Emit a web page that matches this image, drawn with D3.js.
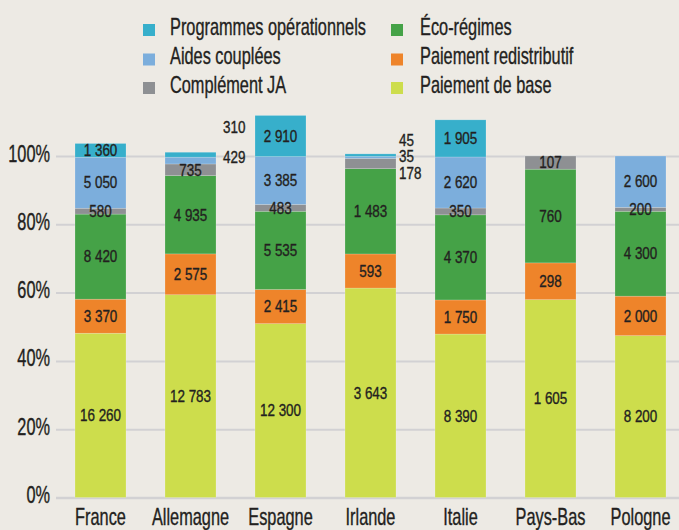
<!DOCTYPE html>
<html>
<head>
<meta charset="utf-8">
<script src="https://cdn.jsdelivr.net/npm/d3@7"></script>
<style>
  html, body { margin: 0; padding: 0; background: #edeae4; }
  svg { display: block; font-family: "Liberation Sans", Arial, sans-serif; }
  svg text { stroke: #231f20; stroke-width: 0.35px; }
</style>
</head>
<body>
<svg width="679" height="530"></svg>
<script>
// data
const countries = ['France','Allemagne','Espagne','Irlande','Italie','Pays-Bas','Pologne']
const seriesNames = ['Paiement de base','Paiement redistributif','Éco-régimes','Complément JA','Aides couplées','Programmes opérationnels']
const paiementBase = [16260, 12783, 12300, 3643, 8390, 1605, 8200]
const paiementRedistributif = [3370, 2575, 2415, 593, 1750, 298, 2000]
const ecoRegimes = [8420, 4935, 5535, 1483, 4370, 760, 4300]
const complementJA = [580, 735, 483, 178, 350, 107, 200]
const aidesCouplees = [5050, 429, 3385, 35, 2620, 0, 2600]
const programmesOp = [1360, 310, 2910, 45, 1905, 0, 0]
// value that stands for 100% in each country
const enveloppe = [33800, 21530, 24160, 5940, 17530, 2770, 17300]
const yTicks = [0, 20, 40, 60, 80, 100]

const colors = ['#cddd4c', '#ee842a', '#45a247', '#8e9093', '#7caedc', '#37afcb']
const seriesValues = [paiementBase, paiementRedistributif, ecoRegimes, complementJA, aidesCouplees, programmesOp]

// labels that sit right of the bar (country|series index -> nudge)
const outsideLabels = {
  'Allemagne|4': {dx: 7, dy: -3},
  'Allemagne|5': {dx: 7, dy: -27},
  'Irlande|3': {dx: 3, dy: 10},
  'Irlande|4': {dx: 3, dy: -1},
  'Irlande|5': {dx: 3, dy: -15}
}

const svg = d3.select('svg'),
    W = 679, H = 530,
    ink = '#231f20',
    sx = 0.71,   // squeeze for the big condensed text
    sv = 0.84    // squeeze for the value labels

const x = d3.scaleBand()
    .domain(countries)
    .range([55.5, 685.5])
    .paddingInner(0.4333)
    .paddingOuter(0.2167)
const y = d3.scaleLinear().domain([0, 100]).range([497.5, 156])

const fmt = v => d3.format(',')(v).replace(/,/g, ' ')

// grid + y labels
const yAxis = svg.append('g')
    .attr('transform', 'translate(56,0)')
    .call(d3.axisLeft(y).tickValues(yTicks).tickSize(-(W - 56)).tickFormat(d => d + '%'))
yAxis.select('.domain').remove()
yAxis.selectAll('.tick line')
    .attr('stroke', '#d2d1d3')
    .attr('stroke-width', d => d === 0 ? 2.6 : 2)
yAxis.selectAll('.tick text')
    .attr('fill', ink)
    .attr('font-size', 23)
    .attr('x', -6 / sx)
    .attr('dy', '0.22em')
    .attr('transform', `scale(${sx},1)`)

// stacked data
const rows = countries.map((c, i) => {
  let acc = 0
  return seriesValues.map((vals, s) => {
    const v = vals[i], p0 = acc / enveloppe[i] * 100
    acc += v
    return {country: c, s, v, p0, p1: acc / enveloppe[i] * 100}
  }).filter(d => d.v > 0)
})
const segs = rows.flat()

const chart = svg.append('g')
chart.selectAll('rect')
  .data(segs)
  .enter().append('rect')
    .attr('x', d => x(d.country))
    .attr('width', x.bandwidth())
    .attr('y', d => y(d.p1))
    .attr('height', d => y(d.p0) - y(d.p1))
    .attr('fill', d => colors[d.s])
    .attr('stroke', 'rgba(255,255,255,0.3)')
    .attr('stroke-width', 0.6)

chart.selectAll('text.val')
  .data(segs)
  .enter().append('text')
    .attr('class', 'val')
    .attr('fill', ink)
    .attr('font-size', 16)
    .attr('dy', '0.36em')
    .each(function(d) {
      const o = outsideLabels[d.country + '|' + d.s]
      const cy = (y(d.p0) + y(d.p1)) / 2
      const t = d3.select(this)
      if (o) {
        t.attr('transform', `translate(${x(d.country) + x.bandwidth() + o.dx},${cy + o.dy}) scale(${sv},1)`)
          .attr('text-anchor', 'start')
      } else {
        t.attr('transform', `translate(${x(d.country) + x.bandwidth() / 2},${cy}) scale(${sv},1)`)
          .attr('text-anchor', 'middle')
      }
    })
    .text(d => fmt(d.v))

// country labels
svg.append('g')
  .selectAll('text')
  .data(countries)
  .enter().append('text')
    .attr('transform', d => `translate(${x(d) + x.bandwidth() / 2},525) scale(${sx},1)`)
    .attr('text-anchor', 'middle')
    .attr('font-size', 23)
    .attr('fill', ink)
    .text(d => d)

// legend, two columns, top series first
const legendOrder = seriesNames.map((n, i) => ({n, i})).reverse()
const legend = svg.append('g')
  .selectAll('g')
  .data(legendOrder)
  .enter().append('g')
    .attr('transform', (d, k) => `translate(${k < 3 ? 143 : 391},${[24, 53.5, 82][k % 3]})`)
legend.append('rect')
    .attr('width', 12).attr('height', 12)
    .attr('fill', d => colors[d.i])
legend.append('text')
    .attr('transform', d => `translate(${d.i >= 3 ? 27 : 29},10.5) scale(${sx},1)`)
    .attr('font-size', 23)
    .attr('fill', ink)
    .text(d => d.n)
</script>
</body>
</html>
